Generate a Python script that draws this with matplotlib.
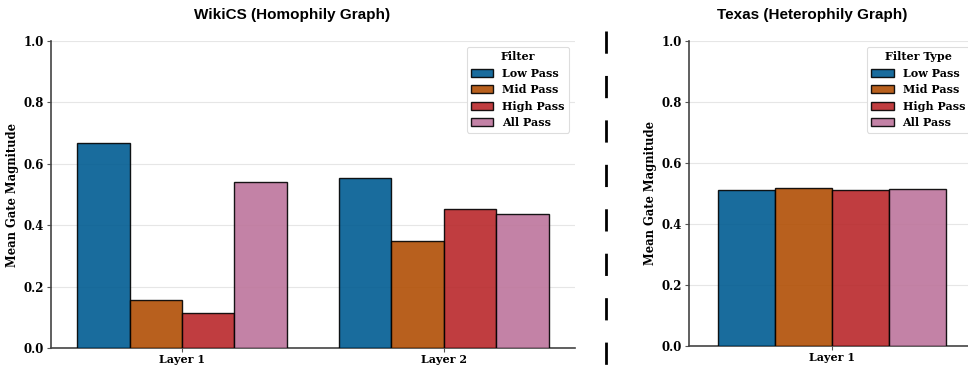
import matplotlib
matplotlib.use('Agg')
import matplotlib.pyplot as plt
from matplotlib.lines import Line2D
import numpy as np

# mean gate magnitude per filter
filters = ['Low Pass', 'Mid Pass', 'High Pass', 'All Pass']
colors = ['#005c92', '#b14f05', '#b9282b', '#bd759c']

wikics_layers = ['Layer 1', 'Layer 2']
wikics_gates = {
    'Low Pass': [0.667, 0.554],
    'Mid Pass': [0.157, 0.348],
    'High Pass': [0.114, 0.452],
    'All Pass': [0.542, 0.436],
}

texas_layers = ['Layer 1']
texas_gates = {
    'Low Pass': [0.513],
    'Mid Pass': [0.517],
    'High Pass': [0.510],
    'All Pass': [0.515],
}

plt.rcParams['font.family'] = 'DejaVu Serif'
plt.rcParams['font.weight'] = 'bold'

fig = plt.figure(figsize=(9.68, 3.68), dpi=100)
ax1 = fig.add_axes([0.0527, 0.0543, 0.541, 0.8343])
ax2 = fig.add_axes([0.7118, 0.0598, 0.2955, 0.8288])


def draw_panel(ax, layers, gates, title, title_x, legend_title):
    x = np.arange(len(layers))
    width = 0.2
    for i, f in enumerate(filters):
        ax.bar(x + (i - 1.5) * width, gates[f], width, color=colors[i], alpha=0.9,
               edgecolor='black', linewidth=1.0, label=f, zorder=3)
    ax.set_xlim(-0.5, len(layers) - 0.5)
    ax.set_ylim(0, 1.0)
    ax.set_yticks([0.0, 0.2, 0.4, 0.6, 0.8, 1.0])
    ax.set_xticks(x)
    ax.set_xticklabels(layers, fontsize=8, fontweight='bold')
    ax.tick_params(axis='y', labelsize=8.5, length=3, color='#555555', pad=2)
    ax.tick_params(axis='x', length=3, color='#555555', pad=1)
    for lab in ax.get_yticklabels():
        lab.set_fontweight('bold')
    ax.grid(axis='y', color='#e6e6e6', linewidth=0.8, zorder=0)
    ax.set_axisbelow(True)
    for s in ['top', 'right']:
        ax.spines[s].set_visible(False)
    for s in ['left', 'bottom']:
        ax.spines[s].set_color('#444444')
        ax.spines[s].set_linewidth(1.2)
    ax.set_ylabel('Mean Gate Magnitude', fontsize=8.3, fontweight='bold', labelpad=3)
    ax.set_title(title, fontsize=11, fontweight='bold', family='Liberation Sans',
                 x=title_x, pad=16)
    leg = ax.legend(title=legend_title, loc='upper right', fontsize=8,
                    title_fontproperties={'weight': 'bold', 'size': 8},
                    framealpha=1, edgecolor='#dddddd', fancybox=True,
                    handlelength=2.0, handleheight=0.7)
    leg.get_frame().set_linewidth(0.8)


draw_panel(ax1, wikics_layers, wikics_gates, 'WikiCS (Homophily Graph)', 0.46, 'Filter')
draw_panel(ax2, texas_layers, texas_gates, 'Texas (Heterophily Graph)', 0.43, 'Filter Type')

# separator between the two panels
sep = Line2D([0.6265, 0.6265], [0.916, 0.0], transform=fig.transFigure,
             color='black', linewidth=2.0, linestyle=(0, (8, 8)))
fig.add_artist(sep)

fig.savefig('out.png', dpi=100)
